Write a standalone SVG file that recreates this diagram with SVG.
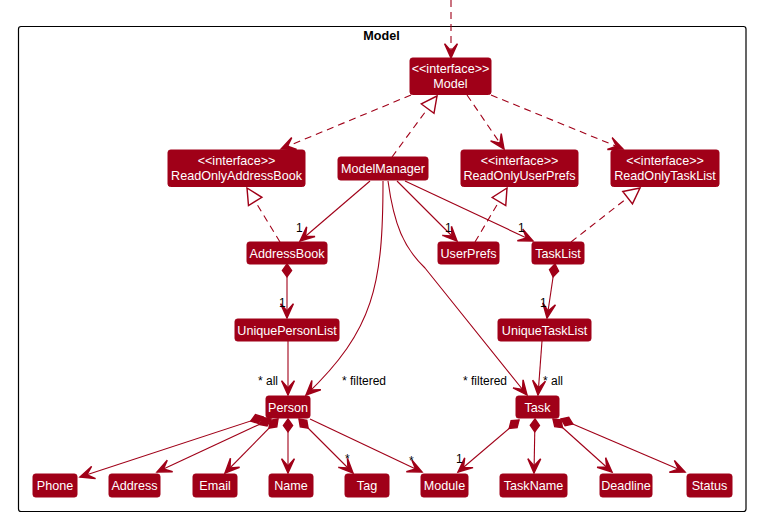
<svg xmlns="http://www.w3.org/2000/svg" width="784" height="527" viewBox="0 0 784 527">
<defs>
<style>
.n rect{fill:#A00018;stroke:#A00018;stroke-width:1}
.n text{fill:#fff;font-family:"Liberation Sans",Arial,sans-serif;font-size:12.6px;text-anchor:middle}
.e{fill:none;stroke:#A00018;stroke-width:1.1}
.d{stroke-dasharray:7,5}
.lbl{fill:#000;font-family:"Liberation Sans",Arial,sans-serif;font-size:12px}
.a{marker-end:url(#arr)}
.r{marker-end:url(#tri)}
.c{marker-start:url(#dia)}
</style>
<marker id="arr" markerUnits="userSpaceOnUse" markerWidth="20" markerHeight="20" viewBox="-12 -6 14 12" refX="0" refY="0" orient="auto" overflow="visible">
<path d="M0,0 L-10,-4.5 L-5,0 L-10,4.5 Z" fill="#A00018" stroke="#A00018" stroke-width="1" stroke-linejoin="miter"/>
</marker>
<marker id="tri" markerUnits="userSpaceOnUse" markerWidth="20" markerHeight="20" viewBox="-13 -7 14 14" refX="0" refY="0" orient="auto" overflow="visible">
<path d="M0,0 L-11,-5.5 L-11,5.5 Z" fill="#fff" stroke="#A00018" stroke-width="1"/>
</marker>
<marker id="dia" markerUnits="userSpaceOnUse" markerWidth="20" markerHeight="20" viewBox="-1 -6 14 12" refX="0" refY="0" orient="auto" overflow="visible">
<path d="M0,0 L4.5,-3.2 L9,0 L4.5,3.2 Z" fill="#A00018" stroke="#A00018" stroke-width="1"/>
</marker>
</defs>
<rect width="784" height="527" fill="#fff"/>
<g id="package">
<rect x="18.5" y="26.5" width="727.5" height="485" rx="2.5" fill="none" stroke="#000" stroke-width="1.2"/>
<text x="381.5" y="39.5" text-anchor="middle" font-family="Liberation Sans,Arial,sans-serif" font-size="12.6" font-weight="bold" fill="#000">Model</text>
</g>
<g id="connectors">
<path class="e d a" d="M451,0 L451,58"/>
<path class="e d a" d="M411,95 L281,149"/>
<path class="e d r" d="M392,157 L437,96"/>
<path class="e d a" d="M467,95 L504,149"/>
<path class="e d a" d="M491,95 L623,149"/>
<path class="e d r" d="M280,242 L247,188"/>
<path class="e d r" d="M475,242 L507,188"/>
<path class="e d r" d="M571,242 L640,188"/>
<path class="e a" d="M370,181 L300,241"/>
<path class="e a" d="M397,181 L457,241"/>
<path class="e a" d="M405,181 L533,241"/>
<path class="e a" d="M383,181 C383,285 374,330 306,395"/>
<path class="e a" d="M388,181 C394,225 404,248 425,268 L527,395"/>
<path class="e c a" d="M287,264 L287,318"/>
<path class="e a" d="M288,341 L288,395"/>
<path class="e c a" d="M555,264 L547,318"/>
<path class="e a" d="M542,341 L538,395"/>
<path class="e c a" d="M263,417 L80,477"/>
<path class="e c a" d="M271,419 L157,472"/>
<path class="e c a" d="M278,419 L225,473"/>
<path class="e c a" d="M288,419 L288,473"/>
<path class="e c a" d="M299,419 L353,473"/>
<path class="e a" d="M310,419 L422,472"/>
<path class="e c a" d="M519,420 L458,472"/>
<path class="e c a" d="M535,419 L534,473"/>
<path class="e c a" d="M553,419 L612,472"/>
<path class="e c a" d="M561,419 L685,472"/>
<text class="lbl" x="296" y="232">1</text>
<text class="lbl" x="445" y="232">1</text>
<text class="lbl" x="518" y="232">1</text>
<text class="lbl" x="279" y="307">1</text>
<text class="lbl" x="540" y="307">1</text>
<text class="lbl" x="258" y="385">* all</text>
<text class="lbl" x="342" y="385">* filtered</text>
<text class="lbl" x="463" y="385">* filtered</text>
<text class="lbl" x="543" y="385">* all</text>
<text class="lbl" x="345" y="463" font-size="10">*</text>
<text class="lbl" x="409" y="465" font-size="10">*</text>
<text class="lbl" x="456" y="463">1</text>
</g>
<g id="Model" class="n"><rect x="410" y="58" width="81" height="36.5" rx="2.5"/><text x="450.5" y="73">&lt;&lt;interface&gt;&gt;</text><text x="450.5" y="88">Model</text></g>
<g id="ReadOnlyAddressBook" class="n"><rect x="168" y="150" width="137" height="36.5" rx="2.5"/><text x="236.5" y="165">&lt;&lt;interface&gt;&gt;</text><text x="236.5" y="180">ReadOnlyAddressBook</text></g>
<g id="ModelManager" class="n"><rect x="338" y="157" width="90" height="23" rx="2.5"/><text x="383" y="173">ModelManager</text></g>
<g id="ReadOnlyUserPrefs" class="n"><rect x="461" y="150" width="117" height="36.5" rx="2.5"/><text x="519.5" y="165">&lt;&lt;interface&gt;&gt;</text><text x="519.5" y="180">ReadOnlyUserPrefs</text></g>
<g id="ReadOnlyTaskList" class="n"><rect x="611" y="150" width="108" height="36.5" rx="2.5"/><text x="665" y="165">&lt;&lt;interface&gt;&gt;</text><text x="665" y="180">ReadOnlyTaskList</text></g>
<g id="AddressBook" class="n"><rect x="247" y="242" width="80" height="22" rx="2.5"/><text x="287" y="257.5">AddressBook</text></g>
<g id="UserPrefs" class="n"><rect x="438" y="242" width="61" height="22" rx="2.5"/><text x="468.5" y="257.5">UserPrefs</text></g>
<g id="TaskList" class="n"><rect x="532" y="242" width="52" height="22" rx="2.5"/><text x="558" y="257.5">TaskList</text></g>
<g id="UniquePersonList" class="n"><rect x="235" y="319" width="104" height="22" rx="2.5"/><text x="287" y="334.5">UniquePersonList</text></g>
<g id="UniqueTaskList" class="n"><rect x="498" y="319" width="93" height="22" rx="2.5"/><text x="544.5" y="334.5">UniqueTaskList</text></g>
<g id="Person" class="n"><rect x="266" y="396" width="44" height="22" rx="2.5"/><text x="288" y="411.5">Person</text></g>
<g id="Task" class="n"><rect x="516" y="396" width="43" height="22" rx="2.5"/><text x="537.5" y="411.5">Task</text></g>
<g id="Phone" class="n"><rect x="33" y="474" width="44" height="23" rx="2.5"/><text x="55" y="490">Phone</text></g>
<g id="Address" class="n"><rect x="109" y="474" width="51" height="23" rx="2.5"/><text x="134.5" y="490">Address</text></g>
<g id="Email" class="n"><rect x="193" y="474" width="44" height="23" rx="2.5"/><text x="215" y="490">Email</text></g>
<g id="Name" class="n"><rect x="269" y="474" width="44" height="23" rx="2.5"/><text x="291" y="490">Name</text></g>
<g id="Tag" class="n"><rect x="345" y="474" width="44" height="23" rx="2.5"/><text x="367" y="490">Tag</text></g>
<g id="Module" class="n"><rect x="421" y="474" width="47" height="23" rx="2.5"/><text x="444.5" y="490">Module</text></g>
<g id="TaskName" class="n"><rect x="500" y="474" width="67" height="23" rx="2.5"/><text x="533.5" y="490">TaskName</text></g>
<g id="Deadline" class="n"><rect x="600" y="474" width="52" height="23" rx="2.5"/><text x="626" y="490">Deadline</text></g>
<g id="Status" class="n"><rect x="687" y="474" width="45" height="23" rx="2.5"/><text x="709.5" y="490">Status</text></g>
</svg>
